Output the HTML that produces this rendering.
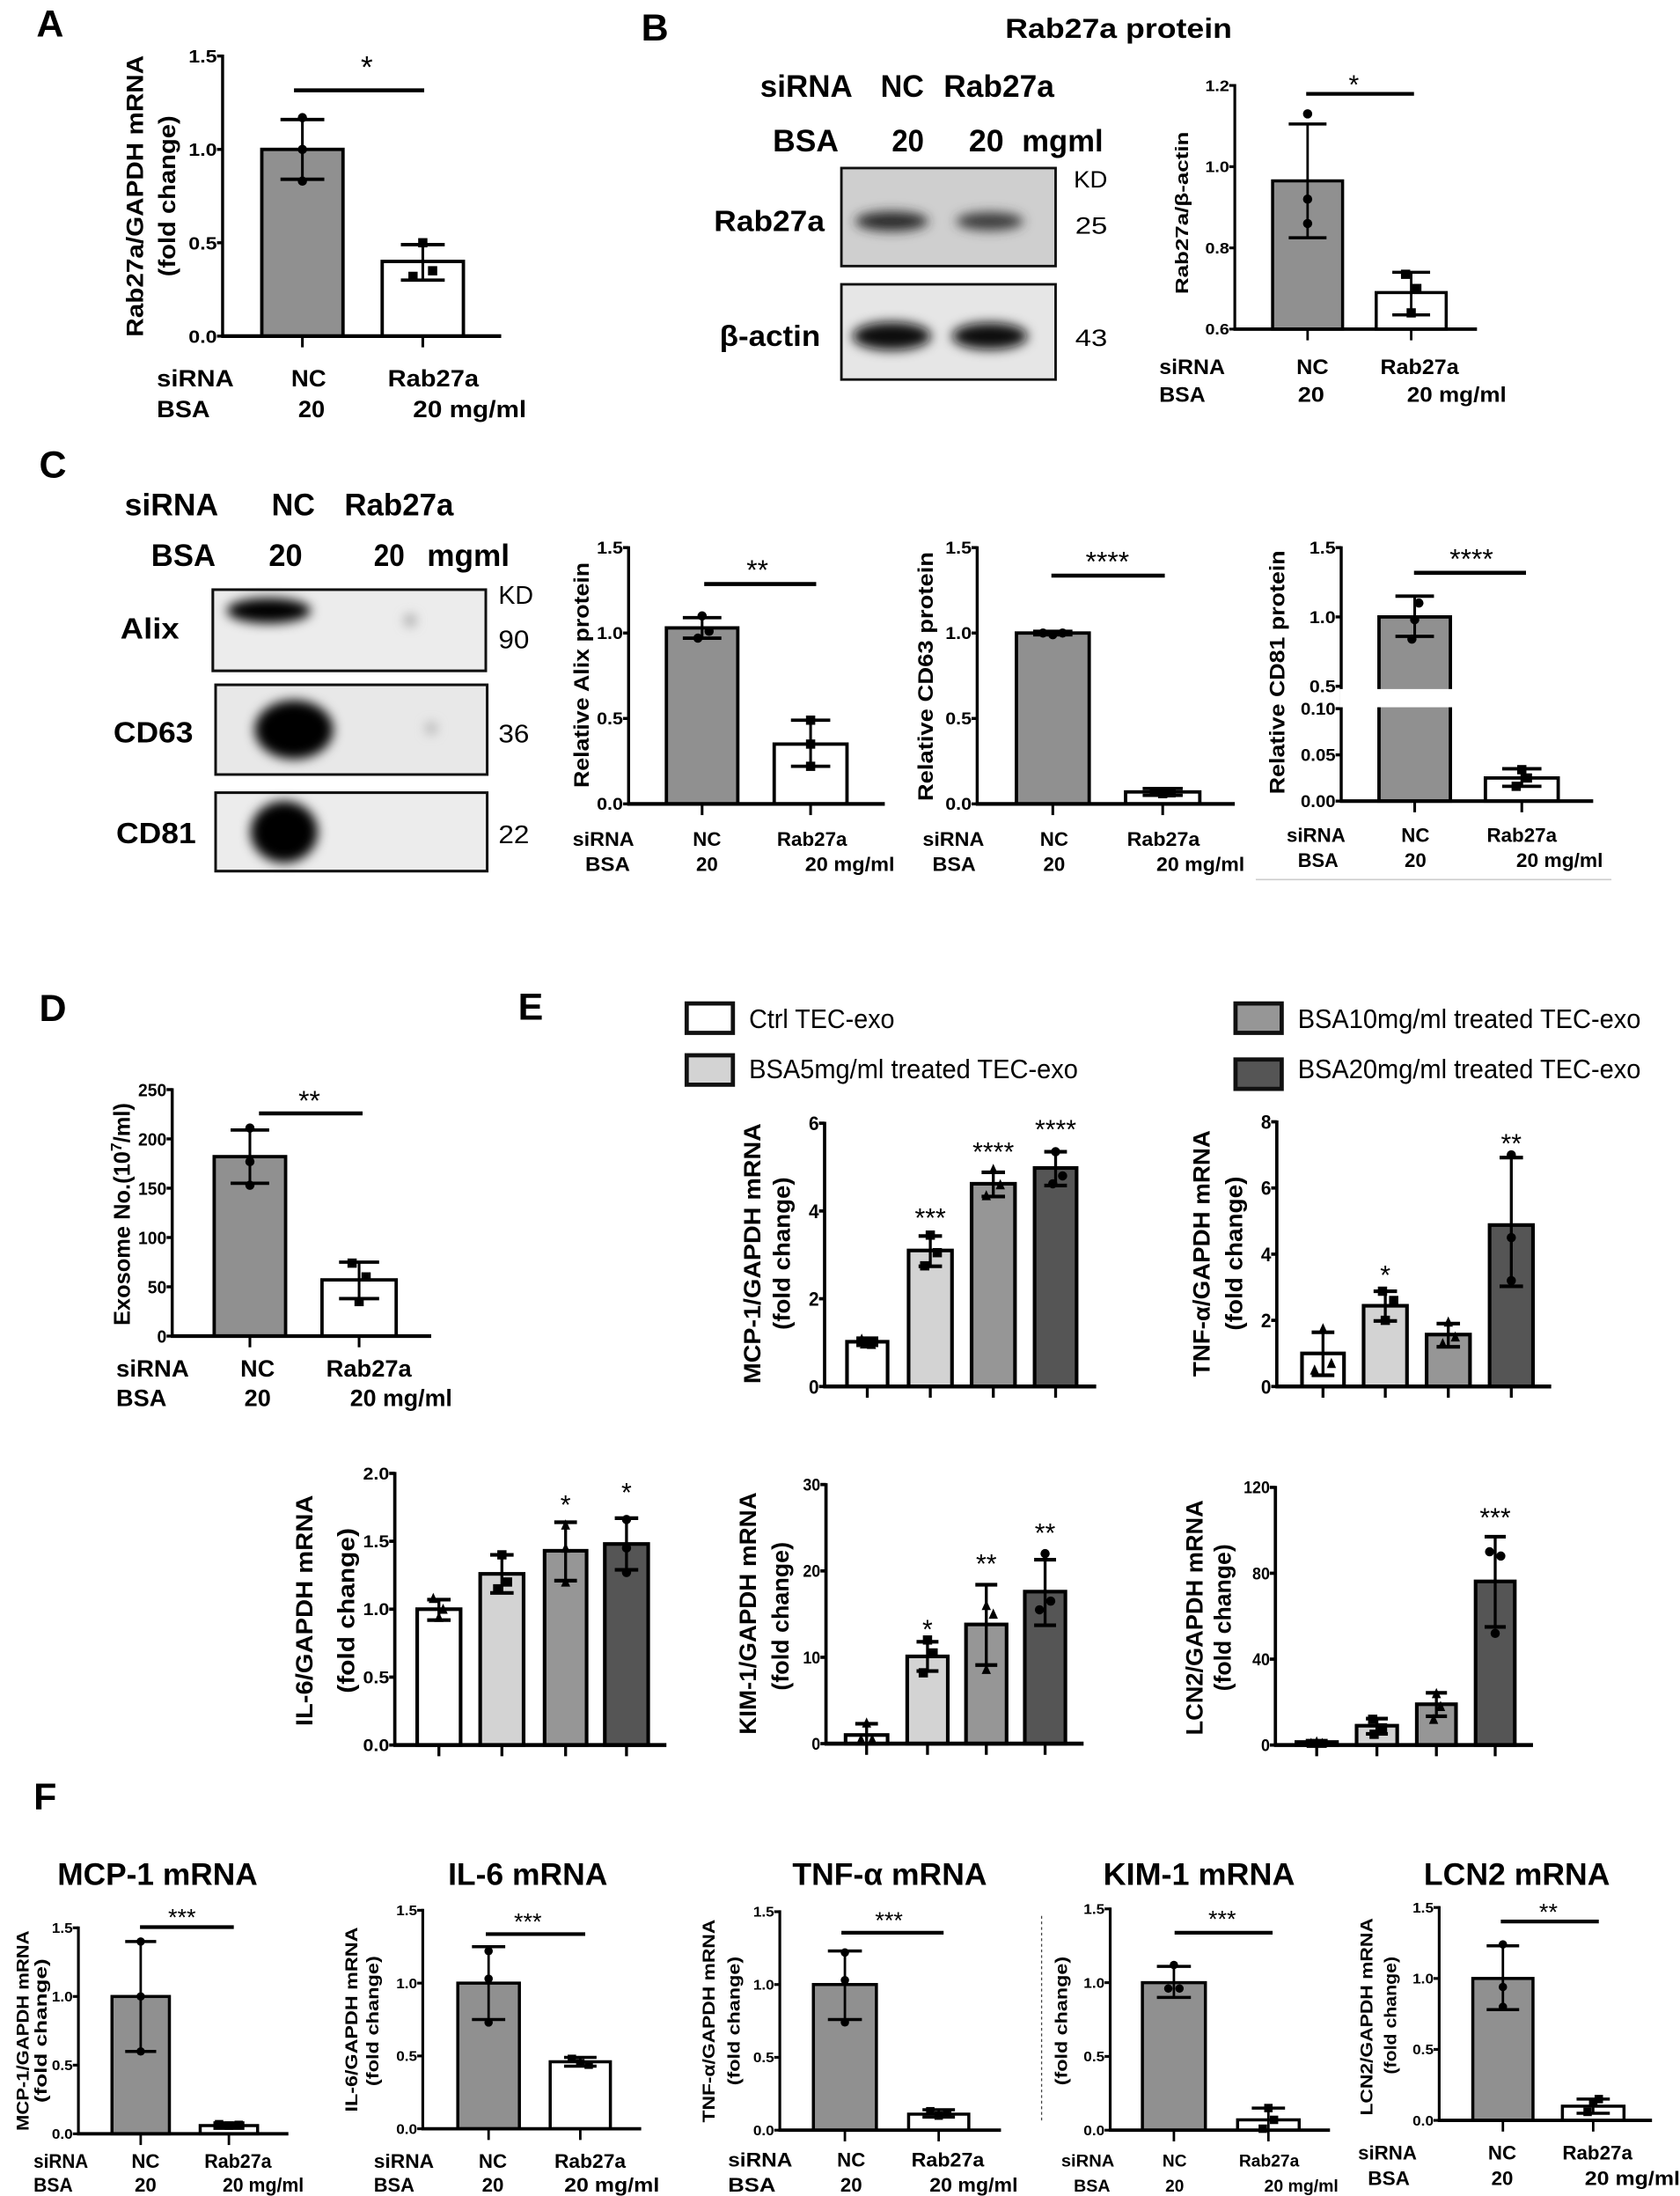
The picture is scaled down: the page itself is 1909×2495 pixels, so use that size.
<!DOCTYPE html>
<html><head><meta charset="utf-8">
<style>
html,body{margin:0;padding:0;background:#fff;}
svg{display:block;font-family:"Liberation Sans",Arial,sans-serif;}
</style></head>
<body>
<svg id="s" width="1909" height="2495" viewBox="0 0 1200 1568" preserveAspectRatio="none" xmlns="http://www.w3.org/2000/svg">
<defs>
<filter id="bl" x="-50%" y="-50%" width="200%" height="200%"><feGaussianBlur stdDeviation="4"/></filter>
</defs>
<g id="g"></g>
</svg>
<script>
let h='';
function T(x,y,s,o){o=o||{};let a='<text x="'+x+'" y="'+y+'" font-size="'+(o.size||14)+'"'+(o.bold===false?'':' font-weight="bold"')+' text-anchor="'+(o.anchor||'start')+'"'+(o.fill?' fill="'+o.fill+'"':'');
 if(o.len)a+=' textLength="'+o.len+'" lengthAdjust="spacingAndGlyphs"';
 if(o.rot)a+=' transform="rotate(-90 '+x+' '+y+')"';
 h+=a+'>'+s+'</text>';}
function TL(x1,x2,y,s,size,bold){T(x1,y,s,{size:size,len:x2-x1,bold:bold});}
function TC(cx,y,s,size,bold){T(cx,y,s,{size:size,anchor:'middle',bold:bold});}
function YL(cx,cy,len,s,size){T(cx+0.36*size,cy,s,{size:size,anchor:'middle',len:len,rot:true});}
function Ln(x1,y1,x2,y2,w){h+='<line x1="'+x1+'" y1="'+y1+'" x2="'+x2+'" y2="'+y2+'" stroke="#000" stroke-width="'+(w||2)+'"/>';}
function pt(x,y,sh,r){r=r||3.5;
 if(sh=='s')h+='<rect x="'+(x-r)+'" y="'+(y-r)+'" width="'+2*r+'" height="'+2*r+'" fill="#000"/>';
 else if(sh=='t')h+='<polygon points="'+x+','+(y-r*1.2)+' '+(x+r)+','+(y+r)+' '+(x-r)+','+(y+r)+'" fill="#000"/>';
 else h+='<circle cx="'+x+'" cy="'+y+'" r="'+r+'" fill="#000"/>';}
const G='#909090',W='#ffffff',Lg='#d3d3d3',M='#969696',D='#555555';
function C(o){
 const Y=o.Y||(v=>o.y0-(v-o.min)/(o.max-o.min)*(o.y0-o.y1));
 const sw=o.sw||2.4;
 o.bars.forEach((b,i)=>{
  const [x1,x2,v,lo,hi,f]=b;const top=Y(v);const cx=(x1+x2)/2;const cw=(x2-x1)*0.27;
  h+='<rect x="'+x1+'" y="'+top+'" width="'+(x2-x1)+'" height="'+(o.y0-top)+'" fill="'+f+'" stroke="#000" stroke-width="'+sw+'"/>';
  Ln(cx,Y(hi),cx,Y(lo),sw*0.8);Ln(cx-cw,Y(hi),cx+cw,Y(hi),sw);Ln(cx-cw,Y(lo),cx+cw,Y(lo),sw);
  const sh=(o.sh&&o.sh[i])||(i==0?'c':'s');const r=o.r||3.3;
  const pts=(o.pts&&o.pts[i])||[[0,hi+(hi-lo)*0.04],[ -3,v-(v-lo)*0.15],[4,lo]];
  pts.forEach(p=>pt(cx+p[0],Y(p[1]),sh,r));
  Ln(cx,o.y0,cx,o.y0+(o.tl||8),sw*0.8);
  if(o.st&&o.st[i])TC(cx,o.st[i][0]+0.58*(o.sts||18),o.st[i][1],o.sts||18,false);
 });
 Ln(o.ax,o.y1-1,o.ax,o.y0+1,sw*0.9);
 Ln(o.ax-1,o.y0,o.xEnd,o.y0,sw*1.1);
 const ts=o.ts||12;const tf=o.tf||0.52;
 o.ticks.forEach((v,i)=>{const y=Y(v);Ln(o.ax-4,y,o.ax,y,sw*0.9);T(o.ax-4,y+ts*0.36,o.lab[i],{size:ts,anchor:'end',len:o.lab[i].length*ts*tf});});
 if(o.sig){const s=o.sig;Ln(s[0],s[2],s[1],s[2],sw*1.2);const ss=s[5]||18;TC(s[3],s[4]+0.58*ss,s[6]||'*',ss,false);}
}
const L3=['0.0','0.5','1.0','1.5'],T3=[0,.5,1,1.5];

T(26,26,'A',{size:27});T(458,29,'B',{size:27});T(28,341,'C',{size:27});T(28,729,'D',{size:27});T(370,728,'E',{size:27});T(24,1292,'F',{size:27});

// A
C({ax:159,y0:240,y1:40,min:0,max:1.5,ticks:T3,lab:L3,ts:13,xEnd:358,
 bars:[[187,245,1,.84,1.16,G],[273,331,.4,.3,.49,W]],
 pts:[[[0,1.17],[0,1.0],[0,.83]],[[0,.5],[7,.35],[-7,.32]]],sig:[210,303,64.5,262,43,22,'*']});
YL(96,140,201,'Rab27a/GAPDH mRNA',17);YL(119,140,115,'(fold change)',17);
TL(112,167,276,'siRNA',17);TL(208,233,276,'NC',17);TL(277,342,276,'Rab27a',17);
TL(112,150,298,'BSA',17);TL(213,232,298,'20',17);TL(295,376,298,'20 mg/ml',17);

// B
TL(718,880,27,'Rab27a protein',20);
TL(543,609,69,'siRNA',22);TL(629,660,69,'NC',22);TL(674,753,69,'Rab27a',22);
TL(552,599,108,'BSA',22);TL(637,660,108,'20',22);TL(692,717,108,'20',22);TL(730,788,108,'mgml',22);
h+='<rect x="601" y="120" width="153" height="70" fill="#cfcfcf" stroke="#111" stroke-width="1.8"/>';
h+='<rect x="601" y="203" width="153" height="68" fill="#e6e6e6" stroke="#111" stroke-width="1.8"/>';
h+='<g filter="url(#bl)"><ellipse cx="637" cy="158" rx="26" ry="7" fill="#2a2a2a"/><ellipse cx="707" cy="158" rx="24" ry="6.5" fill="#3a3a3a"/>'+
 '<ellipse cx="637" cy="240" rx="28" ry="10" fill="#0d0d0d"/><ellipse cx="707" cy="240" rx="27" ry="9.5" fill="#111"/></g>';
TL(510,589,165,'Rab27a',21);TL(514,586,247,'β-actin',21);
TL(767,791,134,'KD',17,false);TL(768,791,167,'25',17,false);TL(768,791,247,'43',17,false);
C({ax:882,y0:235,y1:61,min:.6,max:1.2,ticks:[.6,.8,1,1.2],lab:['0.6','0.8','1.0','1.2'],ts:11,xEnd:1055,sw:2.2,
 bars:[[909,959,.965,.825,1.105,G],[983,1033,.69,.635,.74,W]],
 pts:[[[0,1.13],[0,.92],[0,.86]],[[-4,.735],[4,.70],[0,.64]]],sig:[933,1010,67,967,56,19,'*']});
YL(844,152,116,'Rab27a/β-actin',13);
TL(828,875,267,'siRNA',15);TL(926,949,267,'NC',15);TL(986,1042,267,'Rab27a',15);
TL(828,861,287,'BSA',15);TL(927,946,287,'20',15);TL(1005,1076,287,'20 mg/ml',15);

// C blots
TL(89,156,368,'siRNA',22);TL(194,225,368,'NC',22);TL(246,324,368,'Rab27a',22);
TL(108,154,404,'BSA',22);TL(192,216,404,'20',22);TL(267,289,404,'20',22);TL(305,364,404,'mgml',22);
h+='<rect x="152" y="421" width="195" height="58" fill="#ececec" stroke="#111" stroke-width="1.8"/>';
h+='<rect x="154" y="489" width="194" height="64" fill="#e8e8e8" stroke="#111" stroke-width="1.8"/>';
h+='<rect x="154" y="566" width="194" height="56" fill="#ececec" stroke="#111" stroke-width="1.8"/>';
h+='<g filter="url(#bl)"><ellipse cx="192" cy="436" rx="30" ry="9" fill="#000"/><ellipse cx="293" cy="443" rx="4" ry="4" fill="#999"/>'+
 '<ellipse cx="210" cy="521" rx="28" ry="21" fill="#000"/><ellipse cx="308" cy="520" rx="4" ry="4" fill="#aaa"/>'+
 '<ellipse cx="203" cy="594" rx="24" ry="22" fill="#000"/></g>';
h+='<rect x="152" y="421" width="195" height="58" fill="none" stroke="#111" stroke-width="1.8"/><rect x="154" y="489" width="194" height="64" fill="none" stroke="#111" stroke-width="1.8"/><rect x="154" y="566" width="194" height="56" fill="none" stroke="#111" stroke-width="1.8"/>';
TL(86,128,456,'Alix',21);TL(81,138,530,'CD63',21);TL(83,140,602,'CD81',21);
TL(356,381,431,'KD',18,false);TL(356,378,463,'90',18,false);TL(356,378,530,'36',18,false);TL(356,378,602,'22',18,false);

C({ax:449,y0:574,y1:391,min:0,max:1.5,ticks:T3,lab:L3,ts:12,xEnd:632,
 bars:[[476,527,1.03,.97,1.09,G],[553,605,.35,.22,.49,W]],
 pts:[[[0,1.1],[-3,.97],[5,1.01]],[[0,.49],[0,.35],[0,.22]]],sig:[503,583,417,541,402,20,'**']});
YL(415,482,161,'Relative Alix protein',15);
TL(409,453,604,'siRNA',14);TC(505,604,'NC',14);TL(555,605,604,'Rab27a',14);
TL(418,450,622,'BSA',14);TC(505,622,'20',14);TL(575,639,622,'20 mg/ml',14);
C({ax:698,y0:574,y1:391,min:0,max:1.5,ticks:T3,lab:L3,ts:12,xEnd:882,
 bars:[[726,778,1,.99,1.01,G],[804,857,.07,.05,.09,W]],
 pts:[[[-7,1.0],[0,.99],[7,1.0]],[[-6,.07],[0,.06],[6,.065]]],sig:[751,832,411,791,396,20,'****']});
YL(661,483,178,'Relative CD63 protein',15);
TL(659,703,604,'siRNA',14);TC(753,604,'NC',14);TL(805,857,604,'Rab27a',14);
TL(666,697,622,'BSA',14);TC(753,622,'20',14);TL(826,889,622,'20 mg/ml',14);
const Y81=v=>v<=0.1?572-v/0.1*66:490-(v-0.5)*99;
C({ax:958,Y:Y81,y0:572,y1:391,ticks:[0,.05,.1,.5,1,1.5],lab:['0.00','0.05','0.10','0.5','1.0','1.5'],ts:12,xEnd:1138,
 bars:[[985,1036,1,.86,1.15,G],[1061,1113,.025,.016,.035,W]],
 pts:[[[3,1.1],[-2,.84],[0,.98]],[[0,.034],[4,.025],[-4,.016]]],sig:[1010,1090,409,1051,394,20,'****']});
h+='<rect x="956.8" y="492" width="82" height="13" fill="#fff"/>';
YL(912,480,174,'Relative CD81 protein',15);
TL(919,961,601,'siRNA',14);TC(1011,601,'NC',14);TL(1062,1112,601,'Rab27a',14);
TL(927,956,619,'BSA',14);TC(1011,619,'20',14);TL(1083,1145,619,'20 mg/ml',14);
h+='<line x1="897" y1="628" x2="1151" y2="628" stroke="#ccc" stroke-width="1"/>';

// D
C({ax:123,y0:954,y1:778,min:0,max:250,ticks:[0,50,100,150,200,250],lab:['0','50','100','150','200','250'],ts:13,xEnd:308,
 bars:[[153,204,182,155,209,G],[230,283,57,38,75,W]],
 pts:[[[0,211],[0,177],[0,153]],[[-5,74],[5,60],[0,35]]],sig:[185,259,795,221,781,20,'**']});
T(87+0.36*16,867,'Exosome No.(10<tspan font-size="11" dy="-6">7</tspan><tspan dy="6">/ml)</tspan>',{size:16,anchor:'middle',rot:true});
TL(83,135,983,'siRNA',17);TC(184,983,'NC',17);TL(233,294,983,'Rab27a',17);
TL(83,119,1004,'BSA',17);TC(184,1004,'20',17);TL(250,323,1004,'20 mg/ml',17);

// E legend
function box(x,y,f){h+='<rect x="'+(x+1.5)+'" y="'+(y+1.5)+'" width="33" height="21" fill="'+f+'" stroke="#111" stroke-width="3"/>';}
box(489,715,W);box(489,752,Lg);box(881,715,M);box(881,755,D);
TL(535,639,734,'Ctrl TEC-exo',19,false);TL(535,770,770,'BSA5mg/ml treated TEC-exo',19,false);
TL(927,1172,734,'BSA10mg/ml treated TEC-exo',19,false);TL(927,1172,770,'BSA20mg/ml treated TEC-exo',19,false);

C({ax:589,y0:990,y1:802,min:0,max:6,ticks:[0,2,4,6],lab:['0','2','4','6'],ts:14,xEnd:783,sw:2.6,
 bars:[[605,634,1.02,.94,1.1,W],[649,680,3.1,2.74,3.43,Lg],[694,725,4.62,4.33,4.88,M],[739,769,4.98,4.58,5.35,D]],
 sh:['t','s','t','c'],pts:[[[-4,1.08],[3,.96],[-2,.97]],[[0,3.45],[5,3.05],[-4,2.75]],[[0,4.95],[5,4.6],[-5,4.35]],[[0,5.35],[5,4.8],[-2,4.62]]],
 st:[null,[865,'***'],[818,'****'],[802,'****']],sts:19});
YL(537,895,186,'MCP-1/GAPDH mRNA',17);YL(558,895,109,'(fold change)',17);
C({ax:912,y0:990,y1:801,min:0,max:8,ticks:[0,2,4,6,8],lab:['0','2','4','6','8'],ts:14,xEnd:1108,sw:2.6,
 bars:[[930,960,1.0,.34,1.64,W],[974,1005,2.44,1.98,2.88,Lg],[1019,1050,1.57,1.2,1.9,M],[1064,1095,4.88,3.03,6.92,D]],
 sh:['t','s','t','c'],pts:[[[0,1.75],[-6,.5],[6,.7]],[[0,2.0],[6,2.6],[-2,2.88]],[[0,1.95],[5,1.5],[-4,1.3]],[[0,7.0],[0,4.5],[0,3.2]]],
 st:[null,[906,'*'],null,[812,'**']],sts:19});
YL(858,895,176,'TNF-α/GAPDH mRNA',17);YL(881,895,110,'(fold change)',17);
C({ax:282,y0:1246,y1:1052,min:0,max:2,ticks:[0,.5,1,1.5,2],lab:['0.0','0.5','1.0','1.5','2.0'],ts:12,xEnd:476,sw:2.6,
 bars:[[298,329,1,.92,1.07,W],[343,374,1.26,1.12,1.4,Lg],[389,419,1.43,1.21,1.64,M],[432,463,1.48,1.29,1.67,D]],
 sh:['t','s','t','c'],pts:[[[-4,1.08],[3,1.0],[0,.94]],[[0,1.4],[4,1.2],[-3,1.15]],[[0,1.62],[0,1.45],[0,1.2]],[[0,1.66],[0,1.45],[0,1.27]]],
 st:[null,null,[1070,'*'],[1061,'*']],sts:19});
YL(217,1150,165,'IL-6/GAPDH mRNA',17);YL(247,1150,118,'(fold change)',17);
C({ax:590,y0:1245,y1:1060,min:0,max:30,ticks:[0,10,20,30],lab:['0','10','20','30'],ts:12,xEnd:774,sw:2.6,
 bars:[[604,634,1,0,2.3,W],[648,677,10.1,8.4,11.8,Lg],[690,719,13.8,9.1,18.4,M],[732,761,17.6,13.7,21.3,D]],
 sh:['t','s','t','c'],pts:[[[0,2.4],[-4,.5],[4,.5]],[[0,12],[4,10.5],[-3,8.2]],[[0,16],[5,15],[0,8.6]],[[0,22],[-4,15.5],[4,16.5]]],
 st:[null,[1159,'*'],[1112,'**'],[1090,'**']],sts:19});
YL(534,1152,173,'KIM-1/GAPDH mRNA',17);YL(557,1154,106,'(fold change)',17);
C({ax:911,y0:1246,y1:1062,min:0,max:120,ticks:[0,40,80,120],lab:['0','40','80','120'],ts:12,xEnd:1095,sw:2.6,
 bars:[[926,955,1.4,0,2,W],[969,998,9,5.2,12.3,Lg],[1012,1040,19,13.4,24.3,M],[1054,1082,76.2,55,97,D]],
 sh:['t','s','t','c'],pts:[[[0,1.5],[-4,.8],[4,.8]],[[-3,12],[4,8],[-2,5]],[[0,24],[3,18],[-2,12]],[[-4,90],[4,88],[0,52]]],
 st:[null,null,null,[1079,'***']],sts:19});
YL(853,1155,168,'LCN2/GAPDH mRNA',17);YL(873,1155,105,'(fold change)',17);

// F
TL(41,184,1346,'MCP-1 mRNA',22);TL(320,434,1346,'IL-6 mRNA',22);TL(566,705,1346,'TNF-α mRNA',22);TL(788,925,1346,'KIM-1 mRNA',22);TL(1017,1150,1346,'LCN2 mRNA',22);
function F(o){C({ax:o.ax,y0:o.y0,y1:o.y1,min:0,max:1.5,ticks:T3,lab:L3,ts:10,tf:0.5,xEnd:o.xe,sw:2.2,r:3,
 bars:[[o.b1[0],o.b1[1],1,o.e1[0],o.e1[1],G],[o.b2[0],o.b2[1],o.v2,o.e2[0],o.e2[1],W]],pts:o.pts,
 sig:[o.s[0],o.s[1],o.s[2],o.s[3],o.s[4],17,o.s[5]]});}
F({ax:56,y0:1523.6,y1:1376.5,xe:206,b1:[80,121],e1:[.6,1.4],b2:[143,184],v2:.06,e2:[.04,.08],s:[100,167,1376,130,1365,'***'],
 pts:[[[0,1.4],[0,1.0],[0,.6]],[[-7,.07],[0,.06],[7,.065]]]});
YL(16,1450,143,'MCP-1/GAPDH mRNA',12);YL(29,1450,103,'(fold change)',12);
TL(24,63,1548,'siRNA',14);TC(104,1548,'NC',14);TL(146,194,1548,'Rab27a',14);
TL(24,52,1565,'BSA',14);TC(104,1565,'20',14);TL(159,217,1565,'20 mg/ml',14);
F({ax:302,y0:1520,y1:1364,xe:458,b1:[327,371],e1:[.75,1.25],b2:[393,436],v2:.46,e2:[.43,.49],s:[347,418,1381,377,1368,'***'],
 pts:[[[0,1.22],[0,1.03],[0,.73]],[[-6,.48],[0,.45],[6,.44]]]});
YL(251,1442,132,'IL-6/GAPDH mRNA',12);YL(266,1443,93,'(fold change)',12);
TL(267,310,1548,'siRNA',14);TC(352,1548,'NC',14);TL(396,447,1548,'Rab27a',14);
TL(267,296,1565,'BSA',14);TC(352,1565,'20',14);TL(403,471,1565,'20 mg/ml',14);
F({ax:557,y0:1521,y1:1365,xe:715,b1:[581,626],e1:[.76,1.23],b2:[649,692],v2:.11,e2:[.09,.14],s:[601,674,1380,635,1367,'***'],
 pts:[[[0,1.22],[0,1.03],[0,.74]],[[-6,.13],[0,.1],[6,.12]]]});
YL(506,1443,145,'TNF-α/GAPDH mRNA',12);YL(524,1443,92,'(fold change)',12);
TL(520,566,1547,'siRNA',14);TC(608,1547,'NC',14);TL(651,703,1547,'Rab27a',14);
TL(520,554,1565,'BSA',14);TC(608,1565,'20',14);TL(664,727,1565,'20 mg/ml',14);
F({ax:793,y0:1521,y1:1363,xe:950,b1:[816,861],e1:[.9,1.11],b2:[884,928],v2:.07,e2:[0,.15],s:[839,909,1380,873,1366,'***'],
 pts:[[[0,1.12],[-4,.96],[4,.96]],[[0,.15],[4,.07],[-4,.01]]]});
h+='<line x1="744" y1="1368" x2="744" y2="1516" stroke="#444" stroke-width="0.8" stroke-dasharray="2,2"/>';
YL(758,1443,92,'(fold change)',12);
TL(758,796,1547,'siRNA',12);TC(839,1547,'NC',12);TL(885,928,1547,'Rab27a',12);
TL(767,793,1565,'BSA',12);TC(839,1565,'20',12);TL(903,956,1565,'20 mg/ml',12);
F({ax:1028,y0:1514,y1:1362,xe:1180,b1:[1052,1095],e1:[.78,1.23],b2:[1116,1160],v2:.1,e2:[.05,.15],s:[1072,1142,1372,1106,1361,'**'],
 pts:[[[0,1.24],[0,.94],[0,.8]],[[4,.15],[0,.12],[-4,.06]]]});
YL(976,1440,141,'LCN2/GAPDH mRNA',12);YL(993,1439,84,'(fold change)',12);
TL(970,1012,1542,'siRNA',14);TC(1073,1542,'NC',14);TL(1116,1166,1542,'Rab27a',14);
TL(977,1007,1560,'BSA',14);TC(1073,1560,'20',14);TL(1132,1200,1560,'20 mg/ml',14);

document.getElementById('g').innerHTML=h;
</script>
</body></html>
